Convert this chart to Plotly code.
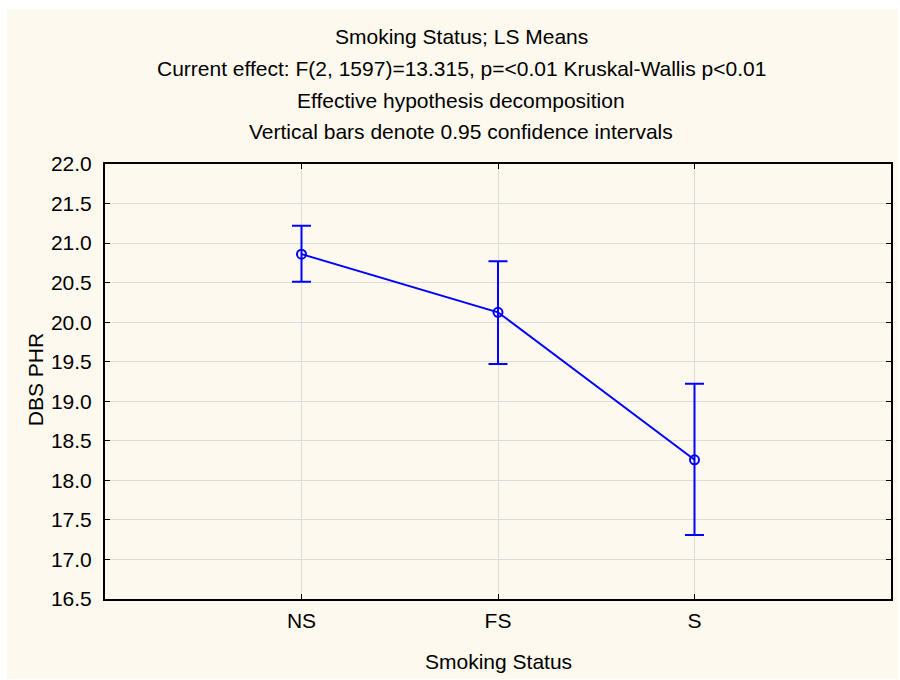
import plotly.graph_objects as go

categories = ["NS", "FS", "S"]
means = [20.86, 20.125, 18.26]
upper = [21.22, 20.77, 19.22]
lower = [20.51, 19.47, 17.31]

y_ticks = [16.5, 17.0, 17.5, 18.0, 18.5, 19.0, 19.5, 20.0, 20.5, 21.0, 21.5, 22.0]
title_lines = [
    "Smoking Status; LS Means",
    "Current effect: F(2, 1597)=13.315, p=<0.01 Kruskal-Wallis p<0.01",
    "Effective hypothesis decomposition",
    "Vertical bars denote 0.95 confidence intervals",
]
x_title = "Smoking Status"
y_title = "DBS PHR"

err_plus = [u - m for u, m in zip(upper, means)]
err_minus = [m - l for m, l in zip(means, lower)]

FONT = "Liberation Sans, Arial, sans-serif"
BLUE = "#0000FF"
FS = 21

fig = go.Figure()
fig.add_trace(go.Scatter(
    x=list(range(len(categories))), y=means,
    mode="lines+markers",
    line=dict(color=BLUE, width=2),
    marker=dict(symbol="circle-open", size=9, color=BLUE, line=dict(width=2, color=BLUE)),
    error_y=dict(type="data", symmetric=False, array=err_plus, arrayminus=err_minus,
                 color=BLUE, thickness=2, width=9.5),
    showlegend=False,
))

L, R, T, B = 105, 7, 164, 81
W, H = 900, 680
pw, ph = W - L - R, H - T - B

def px_x(p):
    return (p - L) / pw

def px_y(p):
    return (H - B - p) / ph

fig.add_shape(type="rect", xref="paper", yref="paper",
              x0=px_x(7), x1=px_x(900), y0=px_y(679), y1=px_y(9),
              fillcolor="#FDF9EE", line=dict(width=0), layer="below")

title_y = [36.5, 68.5, 100, 131.5]
for txt, yy in zip(title_lines, title_y):
    fig.add_annotation(text=txt, xref="paper", yref="paper",
                       x=px_x(462), y=px_y(yy), xanchor="center", yanchor="middle",
                       showarrow=False, font=dict(family=FONT, size=FS, color="black"))

fig.add_annotation(text=x_title, xref="paper", yref="paper",
                   x=px_x(500), y=px_y(661), xanchor="center", yanchor="middle",
                   showarrow=False, font=dict(family=FONT, size=FS, color="black"))
fig.add_annotation(text=y_title, xref="paper", yref="paper",
                   x=px_x(35), y=px_y(380), xanchor="center", yanchor="middle",
                   textangle=-90, showarrow=False,
                   font=dict(family=FONT, size=FS, color="black"))

fig.update_layout(
    width=W, height=H,
    margin=dict(l=L, r=R, t=T, b=B, pad=0),
    paper_bgcolor="white", plot_bgcolor="white",
    font=dict(family=FONT, size=FS, color="black"),
)
fig.update_xaxes(
    range=[-1, 3], tickmode="array", tickvals=list(range(len(categories))), ticktext=categories,
    showgrid=True, gridcolor="#DCDCDC", gridwidth=1,
    showline=True, linecolor="black", linewidth=2, mirror="ticks",
    ticks="inside", ticklen=5, tickcolor="black", tickwidth=1,
    zeroline=False, ticklabelstandoff=2,
)
fig.update_yaxes(
    range=[16.5, 22.0], tickmode="array", tickvals=y_ticks,
    ticktext=[f"{v:.1f}" for v in y_ticks],
    showgrid=True, gridcolor="#DCDCDC", gridwidth=1,
    showline=True, linecolor="black", linewidth=2, mirror="ticks",
    ticks="inside", ticklen=5, tickcolor="black", tickwidth=1,
    zeroline=False, ticklabelstandoff=7,
)

fig.write_html(
    "out.html",
    config={"displayModeBar": False},
    post_script="document.body.style.margin='0';document.body.style.overflow='hidden';",
)
